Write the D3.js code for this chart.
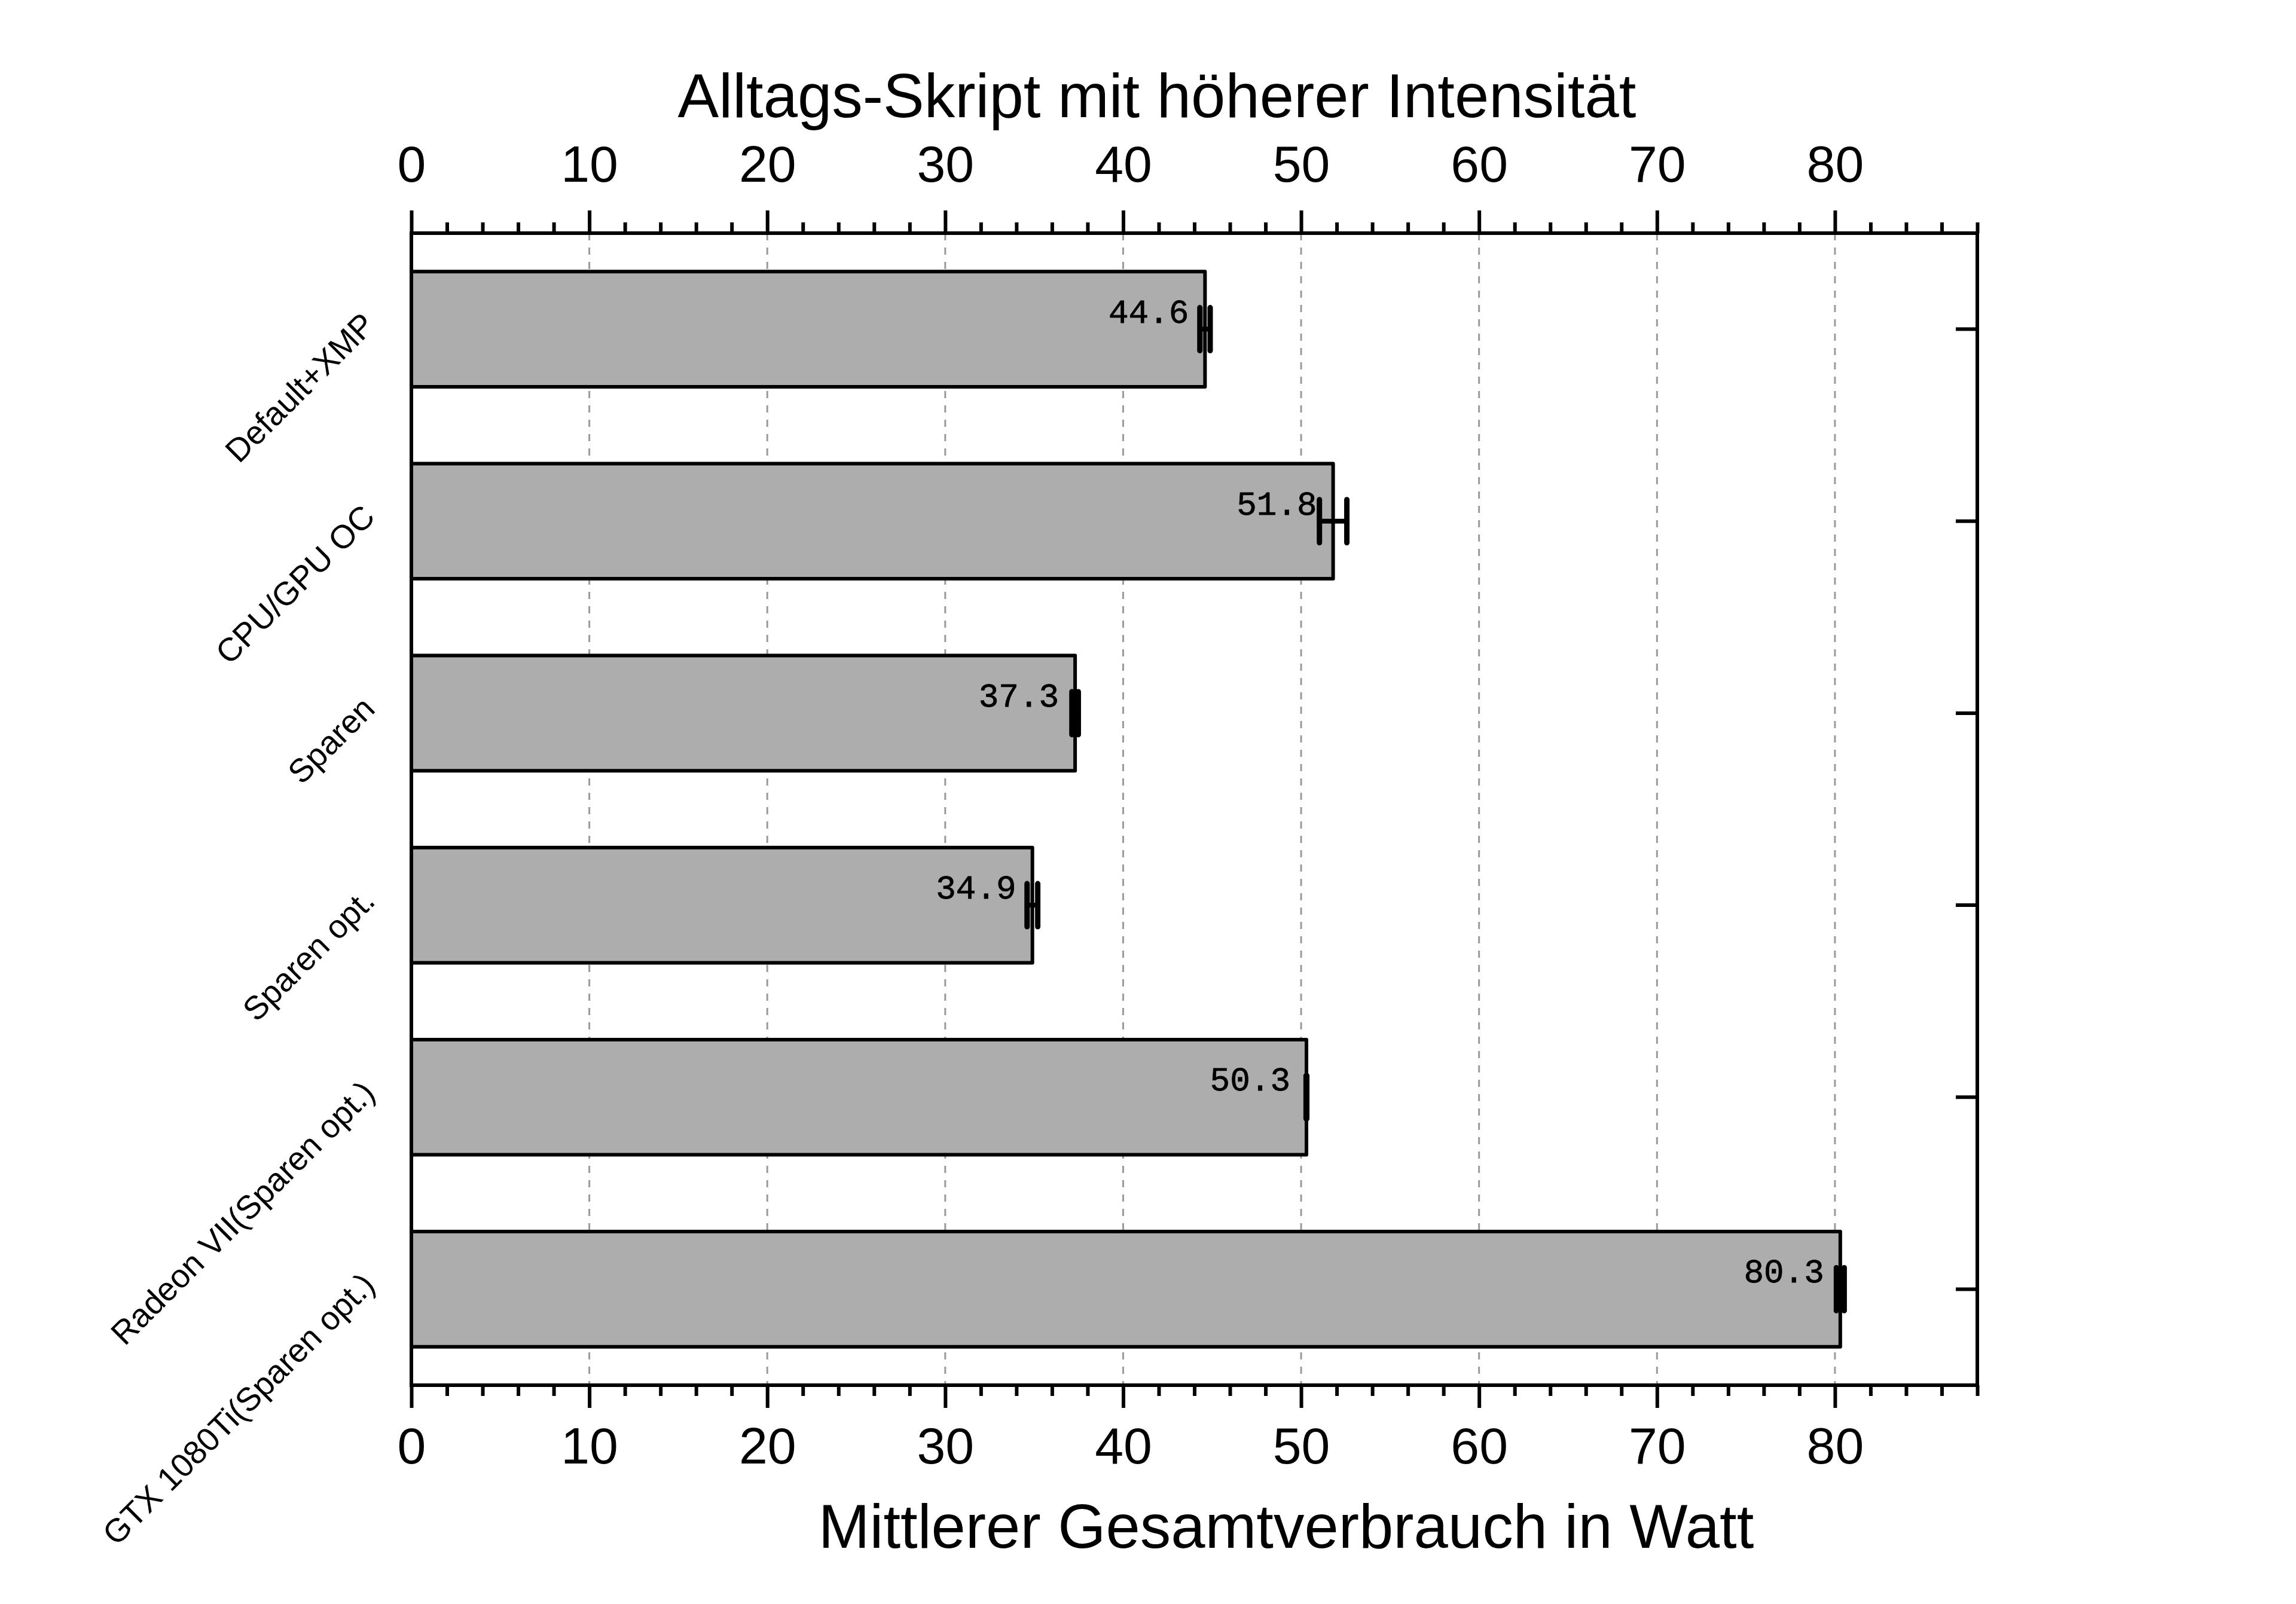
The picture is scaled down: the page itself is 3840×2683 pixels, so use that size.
<!DOCTYPE html>
<html>
<head>
<meta charset="utf-8">
<script src="https://cdn.jsdelivr.net/npm/d3@7"></script>
<style>
  html, body { margin: 0; padding: 0; background: #ffffff; }
  svg { display: block; }
</style>
</head>
<body>
<script>
// ---- data ----
const categories = ["Default+XMP", "CPU/GPU OC", "Sparen", "Sparen opt.", "Radeon VII(Sparen opt.)", "GTX 1080Ti(Sparen opt.)"];
const values = [44.6, 51.8, 37.3, 34.9, 50.3, 80.3];
const errors = [0.29, 0.77, 0.18, 0.3, 0.02, 0.22];
const majorTicks = [0, 10, 20, 30, 40, 50, 60, 70, 80];
const minorTicks = [2, 4, 6, 8, 12, 14, 16, 18, 22, 24, 26, 28, 32, 34, 36, 38, 42, 44, 46, 48, 52, 54, 56, 58, 62, 64, 66, 68, 72, 74, 76, 78, 82, 84, 86, 88];
const gridTicks = [10, 20, 30, 40, 50, 60, 70, 80];
const topTitle = "Alltags-Skript mit höherer Intensität";
const bottomTitle = "Mittlerer Gesamtverbrauch in Watt";

// ---- layout ----
const W = 3840, H = 2683;
const L = 688, R = 3307, T = 390, B = 2317;
const AX = 6;

const svg = d3.select("body").append("svg").attr("width", W).attr("height", H);
svg.append("rect").attr("width", W).attr("height", H).attr("fill", "#fff");

const x = d3.scaleLinear().domain([0, 88]).range([L, R]);
const y = d3.scaleBand().domain(categories).range([T, B]).paddingInner(0.4).paddingOuter(0.2);

// grid
svg.append("g").selectAll("line").data(gridTicks).join("line")
  .attr("x1", d => x(d)).attr("x2", d => x(d))
  .attr("y1", T).attr("y2", B)
  .attr("stroke", "#9a9a9a").attr("stroke-width", 3)
  .attr("stroke-dasharray", "12 12");

// bars
const rows = categories.map((c, i) => ({c, v: values[i], e: errors[i]}));
svg.append("g").selectAll("rect").data(rows).join("rect")
  .attr("x", x(0)).attr("y", d => y(d.c))
  .attr("width", d => x(d.v) - x(0)).attr("height", y.bandwidth())
  .attr("fill", "#adadad").attr("stroke", "#000").attr("stroke-width", 6)
  .attr("stroke-linejoin", "round");

// error bars
const capH = 72;
const eg = svg.append("g").attr("stroke", "#000").attr("stroke-linecap", "round");
rows.forEach(d => {
  const cy = y(d.c) + y.bandwidth() / 2;
  eg.append("line").attr("x1", x(d.v - d.e)).attr("x2", x(d.v + d.e))
    .attr("y1", cy).attr("y2", cy).attr("stroke-width", 8);
  [d.v - d.e, d.v + d.e].forEach(v => {
    eg.append("line").attr("x1", x(v)).attr("x2", x(v))
      .attr("y1", cy - capH / 2).attr("y2", cy + capH / 2).attr("stroke-width", 9);
  });
});

// value labels
svg.append("g").selectAll("text").data(rows).join("text")
  .attr("x", d => x(d.v) - 27)
  .attr("y", d => y(d.c) + y.bandwidth() / 2 - 11)
  .attr("text-anchor", "end")
  .attr("font-family", "'Liberation Mono', 'Courier New', monospace")
  .attr("font-size", 56).attr("fill", "#000")
  .attr("stroke", "#000").attr("stroke-width", 0.8)
  .text(d => d.v.toFixed(1));

// axes: top and bottom
const axTop = d3.axisTop(x).tickValues(majorTicks).tickSize(38).tickPadding(48).tickFormat(d3.format("d"));
const axTopMinor = d3.axisTop(x).tickValues(minorTicks).tickSize(18).tickFormat("");
const axBot = d3.axisBottom(x).tickValues(majorTicks).tickSize(38).tickPadding(32).tickFormat(d3.format("d"));
const axBotMinor = d3.axisBottom(x).tickValues(minorTicks).tickSize(18).tickFormat("");

function styleAxis(g) {
  g.select(".domain").remove();
  g.selectAll(".tick line").attr("stroke", "#000").attr("stroke-width", AX);
  g.selectAll(".tick text").attr("font-family", "'Liberation Sans', Arial, sans-serif")
    .attr("font-size", 86).attr("fill", "#000");
}
svg.append("g").attr("transform", `translate(0,${T})`).call(axTop).call(styleAxis);
svg.append("g").attr("transform", `translate(0,${T})`).call(axTopMinor).call(styleAxis);
svg.append("g").attr("transform", `translate(0,${B})`).call(axBot).call(styleAxis);
svg.append("g").attr("transform", `translate(0,${B})`).call(axBotMinor).call(styleAxis);

// right axis ticks (inward) at category centers
const axRight = d3.axisLeft(y).tickSize(36).tickFormat("");
svg.append("g").attr("transform", `translate(${R},0)`).call(axRight).call(styleAxis);

// frame
svg.append("rect").attr("x", L).attr("y", T).attr("width", R - L).attr("height", B - T)
  .attr("fill", "none").attr("stroke", "#000").attr("stroke-width", AX);

// category labels rotated
svg.append("g").selectAll("text").data(categories).join("text")
  .attr("transform", d => `translate(${L - 58},${y(d) + y.bandwidth() / 2 - 4}) rotate(-45)`)
  .attr("text-anchor", "end")
  .attr("font-family", "'Liberation Sans', Arial, sans-serif")
  .attr("font-size", 55).attr("fill", "#000")
  .text(d => d);

// titles
svg.append("text").attr("x", 1935).attr("y", 196).attr("text-anchor", "middle")
  .attr("font-family", "'Liberation Sans', Arial, sans-serif").attr("font-size", 103)
  .attr("fill", "#000").text(topTitle);
svg.append("text").attr("x", 2151).attr("y", 2589).attr("text-anchor", "middle")
  .attr("font-family", "'Liberation Sans', Arial, sans-serif").attr("font-size", 103)
  .attr("fill", "#000").text(bottomTitle);
</script>
</body>
</html>
